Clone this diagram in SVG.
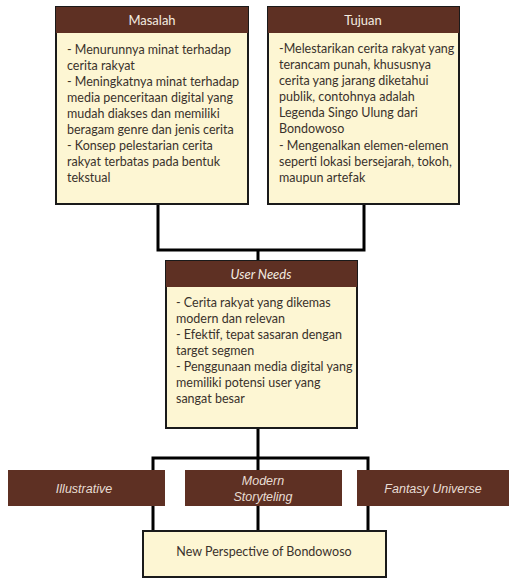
<svg xmlns="http://www.w3.org/2000/svg" width="509" height="579" viewBox="0 0 509 579">
<style>
.box{fill:#fdf6d3;stroke:#1a1a1a;stroke-width:2}
.hdr{fill:#5e3023}
.ht{fill:#f4ece0;font-family:"Lato","Liberation Sans",sans-serif;font-size:13px;text-anchor:middle}
.bt{fill:#3a322c;font-family:"Lato","Liberation Sans",sans-serif;font-size:12.5px}
.lbl{fill:#e8ddd4;font-family:"Liberation Sans",sans-serif;font-size:12.5px;font-style:italic;text-anchor:middle}
.con{fill:none;stroke:#000;stroke-width:3}
</style>
<rect width="509" height="579" fill="#fff"/>
<g id="connectors">
<polyline class="con" points="158,204 158,250 364,250 364,204"/>
<line class="con" x1="258" y1="250" x2="258" y2="261"/>
<line class="con" x1="258" y1="428" x2="258" y2="458"/>
<polyline class="con" points="153,531 153,458 368,458 368,531"/>
<line class="con" x1="258" y1="458" x2="258" y2="531"/>
</g>
<g id="masalah">
<rect class="box" x="56" y="7" width="192" height="197"/>
<rect class="hdr" x="56" y="7" width="192" height="26"/>
<text class="ht" x="152" y="25">Masalah</text>
<text class="bt" x="67"><tspan x="67" y="54">- Menurunnya minat terhadap</tspan><tspan x="67" y="70">cerita rakyat</tspan><tspan x="67" y="86">- Meningkatnya minat terhadap</tspan><tspan x="67" y="102">media penceritaan digital yang</tspan><tspan x="67" y="118">mudah diakses dan memiliki</tspan><tspan x="67" y="134">beragam genre dan jenis cerita</tspan><tspan x="67" y="150">- Konsep pelestarian cerita</tspan><tspan x="67" y="166">rakyat terbatas pada bentuk</tspan><tspan x="67" y="182">tekstual</tspan></text>
</g>
<g id="tujuan">
<rect class="box" x="268" y="7" width="191" height="197"/>
<rect class="hdr" x="268" y="7" width="191" height="26"/>
<text class="ht" x="363" y="25">Tujuan</text>
<text class="bt"><tspan x="279" y="53">-Melestarikan cerita rakyat yang</tspan><tspan x="279" y="69">terancam punah, khususnya</tspan><tspan x="279" y="85">cerita yang jarang diketahui</tspan><tspan x="279" y="101">publik, contohnya adalah</tspan><tspan x="279" y="117">Legenda Singo Ulung dari</tspan><tspan x="279" y="133">Bondowoso</tspan><tspan x="279" y="150">- Mengenalkan elemen-elemen</tspan><tspan x="279" y="166">seperti lokasi bersejarah, tokoh,</tspan><tspan x="279" y="182">maupun artefak</tspan></text>
</g>
<g id="user-needs">
<rect class="box" x="166" y="261" width="191" height="167"/>
<rect class="hdr" x="166" y="261" width="191" height="26"/>
<text class="ht" x="261" y="279" font-style="italic">User Needs</text>
<text class="bt"><tspan x="176" y="307">- Cerita rakyat yang dikemas</tspan><tspan x="176" y="323">modern dan relevan</tspan><tspan x="176" y="339">- Efektif, tepat sasaran dengan</tspan><tspan x="176" y="355">target segmen</tspan><tspan x="176" y="371">- Penggunaan media digital yang</tspan><tspan x="176" y="387">memiliki potensi user yang</tspan><tspan x="176" y="403">sangat besar</tspan></text>
</g>
<g id="illustrative">
<rect class="hdr" x="8" y="470" width="157" height="36"/>
<text class="lbl" x="84" y="493">Illustrative</text>
</g>
<g id="modern-storytelling">
<rect class="hdr" x="185" y="470" width="157" height="36"/>
<text class="lbl"><tspan x="263" y="485">Modern</tspan><tspan x="263" y="501">Storyteling</tspan></text>
</g>
<g id="fantasy-universe">
<rect class="hdr" x="357" y="470" width="152" height="36"/>
<text class="lbl" x="433" y="493">Fantasy Universe</text>
</g>
<g id="new-perspective">
<rect class="box" x="143" y="531" width="243" height="46"/>
<text class="bt" x="264" y="556" text-anchor="middle">New Perspective of Bondowoso</text>
</g>
</svg>
